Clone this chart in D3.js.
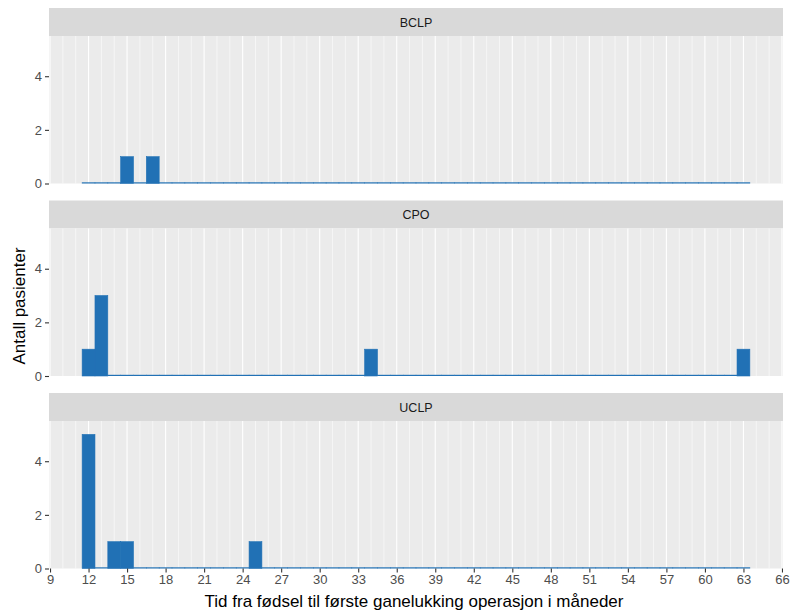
<!DOCTYPE html>
<html><head><meta charset="utf-8">
<script src="https://cdn.jsdelivr.net/npm/d3@7"></script>
<style>body{margin:0;background:#fff}text{font-family:"Liberation Sans",Arial,sans-serif}</style>
</head><body><svg id="c" width="798" height="611"></svg>
<script>
const panelNames = ["BCLP", "CPO", "UCLP"];
const bclpMonths = [15, 17];
const bclpCounts = [1, 1];
const cpoMonths = [12, 13, 34, 63];
const cpoCounts = [1, 3, 1, 1];
const uclpMonths = [12, 14, 15, 25];
const uclpCounts = [5, 1, 1, 1];
const xTicks = [9,12,15,18,21,24,27,30,33,36,39,42,45,48,51,54,57,60,63,66];
const yTicks = [0, 2, 4];
const xTitle = "Tid fra fødsel til første ganelukking operasjon i måneder";
const yTitle = "Antall pasienter";

const series = [[bclpMonths,bclpCounts],[cpoMonths,cpoCounts],[uclpMonths,uclpCounts]];
const allMonths = [].concat(bclpMonths, cpoMonths, uclpMonths);
const minM = d3.min(allMonths), maxM = d3.max(allMonths);

const svg = d3.select("#c");
const L = 49, R = 783;
const x = d3.scaleLinear().domain([8.92, 66.08]).range([L, R]);
const stripTops = [8, 200.5, 393];
const stripH = 28, panelH = 147.5;
const blue = "#2171b5";
const ff = '"Liberation Sans",Arial,sans-serif';

stripTops.forEach((st, i) => {
  const g = svg.append("g");
  const top = st + stripH, bot = top + panelH;
  const y = d3.scaleLinear().domain([0, 5.5]).range([bot, top]);
  g.append("rect").attr("x", L).attr("y", st).attr("width", R - L).attr("height", stripH).attr("fill", "#d9d9d9");
  g.append("text").attr("x", (L + R) / 2).attr("y", st + stripH / 2 + 4.5).attr("text-anchor", "middle")
    .attr("font-size", 12.5).attr("fill", "#1a1a1a").text(panelNames[i]);
  g.append("rect").attr("x", L).attr("y", top).attr("width", R - L).attr("height", panelH).attr("fill", "#ebebeb");
  const minor = d3.range(9, 67).filter(v => !xTicks.includes(v));
  g.selectAll(".mn").data(minor).join("line").attr("x1", d => x(d)).attr("x2", d => x(d))
    .attr("y1", top).attr("y2", bot).attr("stroke", "#fff").attr("stroke-width", 0.55);
  g.selectAll(".mj").data(xTicks).join("line").attr("x1", d => x(d)).attr("x2", d => x(d))
    .attr("y1", top).attr("y2", bot).attr("stroke", "#fff").attr("stroke-width", 1.1);
  // bins
  const [ms, cs] = series[i];
  const bins = d3.range(minM, maxM + 1).map(m => { const k = ms.indexOf(m); return {m, n: k >= 0 ? cs[k] : 0}; });
  g.selectAll(".b").data(bins.filter(d => d.n > 0)).join("rect")
    .attr("x", d => x(d.m - 0.5)).attr("width", d => x(d.m + 0.5) - x(d.m - 0.5))
    .attr("y", d => y(d.n)).attr("height", d => y(0) - y(d.n))
    .attr("fill", blue).attr("stroke", blue).attr("stroke-width", 0.6);
  g.selectAll(".z").data(bins.filter(d => d.n === 0)).join("line")
    .attr("x1", d => x(d.m - 0.5) - 0.3).attr("x2", d => x(d.m + 0.5) + 0.3)
    .attr("y1", y(0) - 0.6).attr("y2", y(0) - 0.6)
    .attr("stroke", blue).attr("stroke-width", 1.2);
  // y axis
  const ya = g.append("g").attr("transform", `translate(${L},0)`)
    .call(d3.axisLeft(y).tickValues(yTicks).tickFormat(d3.format("d")).tickSize(4).tickPadding(3));
  ya.select(".domain").remove();
  ya.selectAll("line").attr("stroke", "#333").attr("stroke-width", 1.1);
  ya.selectAll("text").attr("font-size", 13).attr("fill", "#4d4d4d").style("font-family", ff);
  if (i === 2) {
    const xa = g.append("g").attr("transform", `translate(0,${bot})`)
      .call(d3.axisBottom(x).tickValues(xTicks).tickFormat(d3.format("d")).tickSize(4).tickPadding(2));
    xa.select(".domain").remove();
    xa.selectAll("line").attr("stroke", "#333").attr("stroke-width", 1.1);
    xa.selectAll("text").attr("font-size", 13).attr("fill", "#4d4d4d").style("font-family", ff);
  }
});
svg.append("text").attr("x", 414).attr("y", 607).attr("text-anchor", "middle")
  .attr("font-size", 17).attr("fill", "#000").text(xTitle);
svg.append("text").attr("transform", "translate(25,306) rotate(-90)").attr("text-anchor", "middle")
  .attr("font-size", 17).attr("fill", "#000").text(yTitle);
</script></body></html>
